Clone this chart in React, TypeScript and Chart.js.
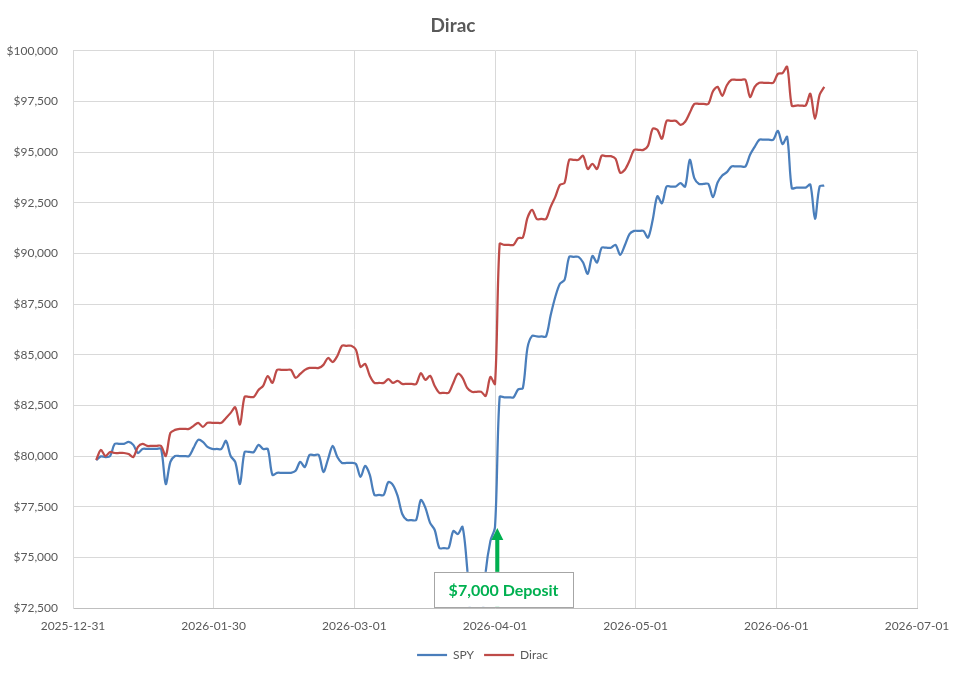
import React, { useEffect, useRef } from "react";
import { Chart, registerables } from "chart.js";

Chart.register(...registerables);

// x axis runs from 2025-12-31 to 2026-07-01 in six equal steps (days)
const AXIS_START = "2025-12-31";
const AXIS_DAYS = 182;
const xTickLabels = [
  "2025-12-31",
  "2026-01-30",
  "2026-03-01",
  "2026-04-01",
  "2026-05-01",
  "2026-06-01",
  "2026-07-01",
];

// daily values, first day is a Monday; one row per week (Mon..Sun)
const firstDate = "2026-01-05";

const spyValues = [
  79800, 79980, 79950, 80000, 80600, 80600, 80600,
  80700, 80550, 80150, 80350, 80350, 80350, 80350,
  80350, 78620, 79710, 80000, 80000, 80000, 80000,
  80400, 80800, 80700, 80450, 80350, 80350, 80350,
  80750, 80000, 79700, 78620, 80200, 80200, 80200,
  80550, 80350, 80350, 79070, 79170, 79170, 79170,
  79170, 79270, 79710, 79460, 80050, 80050, 80050,
  79210, 79850, 80500, 79950, 79660, 79660, 79660,
  79610, 78970, 79510, 79070, 78080, 78080, 78080,
  78720, 78570, 78030, 77140, 76840, 76840, 76840,
  77830, 77440, 76700, 76350, 75460, 75460, 75460,
  76300, 76150, 76500, 74470, 71500, 71500, 71500,
  74300, 75800, 76500, 82920, 82900, 82900, 82900,
  83290, 83350, 85340, 85930, 85900, 85900, 85900,
  86950, 87850, 88500, 88690, 89830, 89830, 89830,
  89550, 88990, 89880, 89550, 90280, 90280, 90280,
  90420, 89930, 90400, 90950, 91110, 91110, 91110,
  90780, 91650, 92820, 92480, 93300, 93300, 93300,
  93470, 93300, 94620, 93700, 93430, 93430, 93430,
  92780, 93500, 93850, 94010, 94290, 94290, 94290,
  94290, 94870, 95260, 95610, 95610, 95610, 95610,
  96050, 95400, 95750, 93220, 93250, 93250, 93250,
  93400, 91700, 93300, 93350,
];

const diracValues = [
  79800, 80300, 80000, 80200, 80150, 80150, 80150,
  80100, 79950, 80450, 80600, 80500, 80500, 80500,
  80500, 80000, 81140, 81290, 81340, 81340, 81340,
  81490, 81640, 81440, 81640, 81640, 81640, 81640,
  81880, 82130, 82400, 81550, 82920, 82920, 82920,
  83260, 83460, 83950, 83610, 84250, 84250, 84250,
  84250, 83860, 84050, 84250, 84350, 84350, 84350,
  84500, 84840, 84640, 84940, 85440, 85440, 85440,
  85250, 84400, 84550, 83960, 83610, 83610, 83610,
  83800, 83610, 83710, 83560, 83560, 83560, 83560,
  84090, 83760, 83960, 83460, 83120, 83120, 83120,
  83610, 84060, 83860, 83360, 83170, 83170, 83170,
  82970, 83900, 83560, 90470, 90420, 90420, 90420,
  90760, 90780, 91750, 92150, 91700, 91700, 91700,
  92300, 92790, 93380, 93480, 94620, 94620, 94620,
  94820, 94170, 94420, 94170, 94820, 94800, 94800,
  94670, 93980, 94130, 94570, 95110, 95110, 95110,
  95310, 96150, 96100, 95660, 96540, 96540, 96540,
  96350, 96500, 96940, 97380, 97380, 97380, 97380,
  98000, 98220, 97780, 98300, 98570, 98570, 98570,
  98570, 97720, 98220, 98420, 98420, 98420, 98420,
  98860, 98900, 99210, 97290, 97300, 97300, 97300,
  97880, 96640, 97830, 98220,
];

// annotation
const depositLabel = "$7,000 Deposit";
const arrowDay = 91.5;
const arrowTipValue = 76450;
const boxDay = 92.85;
const boxValue = 73420;

const GREY = "#595959";
const GREEN = "#00B050";
const FONT = "Lato";

const dayOf = (iso: string) =>
  (Date.parse(iso) - Date.parse(AXIS_START)) / 86400000;

const toPoints = (values: number[]) => {
  const d0 = dayOf(firstDate);
  return values.map((v, i) => ({ x: d0 + i, y: v }));
};

const xTickDays = xTickLabels.map(
  (_, i) => (i * AXIS_DAYS) / (xTickLabels.length - 1)
);

const depositAnnotation = {
  id: "depositAnnotation",
  afterDatasetsDraw(chart: any) {
    const { ctx } = chart;
    const x = chart.scales.x;
    const y = chart.scales.y;
    const ax = x.getPixelForValue(arrowDay);
    const tipY = y.getPixelForValue(arrowTipValue);
    const baseY = chart.chartArea.bottom;
    ctx.save();
    ctx.fillStyle = GREEN;
    ctx.fillRect(ax - 2, tipY + 10, 4, baseY - tipY - 10);
    ctx.beginPath();
    ctx.moveTo(ax, tipY);
    ctx.lineTo(ax - 6, tipY + 12);
    ctx.lineTo(ax + 6, tipY + 12);
    ctx.closePath();
    ctx.fill();

    const bx = x.getPixelForValue(boxDay);
    const by = y.getPixelForValue(boxValue);
    const w = 139;
    const h = 35;
    ctx.fillStyle = "#ffffff";
    ctx.fillRect(bx - w / 2, by - h / 2, w, h);
    ctx.strokeStyle = "#a6a6a6";
    ctx.lineWidth = 1;
    ctx.strokeRect(Math.round(bx - w / 2) + 0.5, Math.round(by - h / 2) + 0.5, w, h);
    ctx.fillStyle = GREEN;
    ctx.font = `bold 16px ${FONT}`;
    ctx.textAlign = "center";
    ctx.textBaseline = "middle";
    ctx.fillText(depositLabel, bx, by + 1);
    ctx.restore();
  },
};

// Excel puts the title a bit left of the page centre
const titleShift = {
  id: "titleShift",
  afterLayout(chart: any) {
    const t = chart.titleBlock;
    if (t) {
      t.left = 0;
      t.right = chart.width - 59;
    }
  },
};

function App() {
  const canvasRef = useRef<HTMLCanvasElement>(null);

  useEffect(() => {
    const tickFont = { family: FONT, size: 12 };
    const chart = new Chart(canvasRef.current!, {
      type: "line",
      data: {
        datasets: [
          {
            label: "SPY",
            data: toPoints(spyValues),
            borderColor: "#4A7EBB",
            backgroundColor: "#4A7EBB",
            borderWidth: 2.25,
            pointRadius: 0,
            tension: 0.3,
            clip: 0,
            order: 2,
          },
          {
            label: "Dirac",
            data: toPoints(diracValues),
            borderColor: "#BE4B48",
            backgroundColor: "#BE4B48",
            borderWidth: 2.25,
            pointRadius: 0,
            tension: 0.3,
            clip: 0,
            order: 1,
          },
        ],
      },
      options: {
        responsive: true,
        maintainAspectRatio: false,
        animation: false,
        layout: { padding: { left: 0, right: 0, top: 0, bottom: 2 } },
        scales: {
          x: {
            type: "linear",
            min: 0,
            max: AXIS_DAYS,
            afterBuildTicks: (s: any) => {
              s.ticks = xTickDays.map((v) => ({ value: v }));
            },
            afterFit: (s: any) => {
              s.height = 31;
            },
            ticks: {
              callback: (_v: any, i: number) => xTickLabels[i],
              autoSkip: false,
              maxRotation: 0,
              padding: 11,
              color: GREY,
              font: tickFont,
            },
            grid: { color: "#d9d9d9", drawTicks: false },
            border: { color: "#bfbfbf" },
          },
          y: {
            min: 72500,
            max: 100000,
            afterFit: (s: any) => {
              s.width = 73;
            },
            ticks: {
              stepSize: 2500,
              callback: (v: any) => "$" + Number(v).toLocaleString("en-US"),
              padding: 15,
              color: GREY,
              font: tickFont,
            },
            grid: { color: "#d9d9d9", drawTicks: false },
            border: { color: "#d9d9d9" },
          },
          y2: {
            position: "right",
            grid: { display: false },
            ticks: { display: false },
            border: { display: false },
            afterFit: (s: any) => {
              s.width = 48;
            },
          },
        },
        plugins: {
          title: {
            display: true,
            text: "Dirac",
            color: GREY,
            font: { family: FONT, size: 19, weight: "bold" },
            padding: { top: 14, bottom: 14 },
          },
          legend: {
            position: "bottom",
            labels: {
              usePointStyle: true,
              pointStyle: "line",
              pointStyleWidth: 30,
              padding: 10,
              color: GREY,
              font: tickFont,
              sort: (a: any, b: any) => a.datasetIndex - b.datasetIndex,
            },
          },
          tooltip: { enabled: false },
        },
      },
      plugins: [depositAnnotation, titleShift],
    } as any);

    return () => chart.destroy();
  }, []);

  return (
    <div
      style={{
        position: "fixed",
        left: 0,
        top: 0,
        width: 965,
        height: 673,
        background: "#ffffff",
      }}
    >
      <canvas ref={canvasRef} />
    </div>
  );
}

export default App;
